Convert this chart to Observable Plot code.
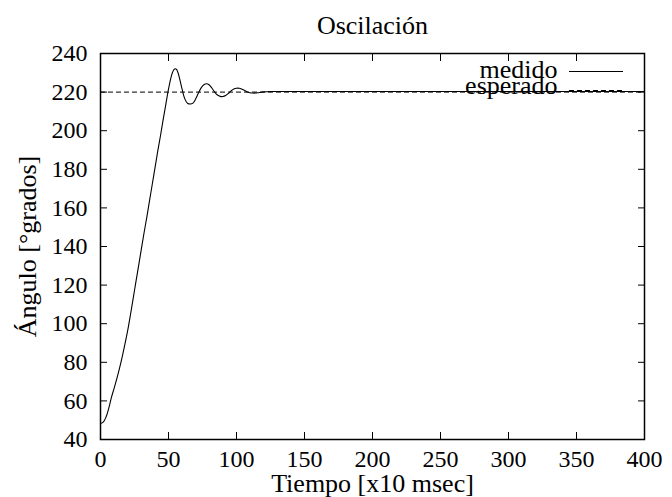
<!DOCTYPE html>
<html><head><meta charset="utf-8">
<script src="https://cdn.jsdelivr.net/npm/d3@7"></script>
<script src="https://cdn.jsdelivr.net/npm/@observablehq/plot@0.6"></script>
<style>
body{margin:0;background:#fff}
svg, svg text{font-family:"Liberation Serif","Times New Roman",serif !important}
</style>
</head><body><div id="chart"></div><script>
const tiempo = [0,2,4,6,8,10,12,14,16,18,20,22,24,26,28,30,32,34,36,38,40,42,44,46,48,50,52,53,54,55,56,57,58,60,62,64,66,68,70,72,74,76,78,80,82,84,86,88,90,92,94,96,98,100,102,104,106,108,110,112,114,116,118,120,125,130,150,200,250,300,350,400];
const medido = [48.3,49,51.5,56,61.7,66.5,71.5,77,83,89.5,96.5,104.5,113,121.5,130,138.5,147,155,163.5,172,180.5,189,197,205.5,213.5,221.5,228,230.3,231.7,232.1,231.6,230,227.5,221.5,216.5,214.2,213.8,214.3,216.5,219.5,222.2,223.8,224.3,223.7,222,220,218.5,217.8,217.7,218.2,219.3,220.6,221.6,222,222,221.5,220.8,220.1,219.7,219.5,219.5,219.7,219.9,220.1,220.3,220.3,220.3,220.3,220.3,220.3,220.3,220.3];
const esperado = 220;
const xTicks = [0,50,100,150,200,250,300,350,400];
const yTicks = [40,60,80,100,120,140,160,180,200,220,240];
const titulo = "Oscilación";
const xLabel = "Tiempo [x10 msec]";
const yLabel = "Ángulo [°grados]";
const leyenda = ["medido","esperado"];

const data = tiempo.map((t,i)=>({t, v: medido[i]}));
const serif = "Liberation Serif, Times New Roman, serif";

const plot = Plot.plot({
  width: 672, height: 497,
  marginLeft: 100, marginRight: 28, marginTop: 53, marginBottom: 58,
  style: {fontFamily: serif, fontSize: "24px", color: "black", background: "white", overflow: "visible"},
  x: {domain: [0,400]},
  y: {domain: [40,240]},
  marks: [
    Plot.ruleY([esperado], {stroke: "black", strokeWidth: 1, strokeDasharray: "5,3"}),
    Plot.line(data, {x: "t", y: "v", stroke: "black", strokeWidth: 1.1, curve: "catmull-rom"}),
    Plot.axisX({ticks: xTicks, tickSize: -7, tickPadding: 17, label: null, fontSize: 24}),
    Plot.axisX({anchor: "top", ticks: xTicks, tickSize: -7, tickFormat: () => "", label: null}),
    Plot.axisY({ticks: yTicks, tickSize: -7, tickPadding: 20, label: null, fontSize: 24}),
    Plot.axisY({anchor: "right", ticks: yTicks, tickSize: -7, tickFormat: () => "", label: null}),
    Plot.frame({stroke: "black", strokeWidth: 1.5}),
    Plot.text([xLabel], {frameAnchor: "bottom", dy: 52, lineAnchor: "bottom", fontSize: 26, fill: "black"}),
    Plot.text([yLabel], {frameAnchor: "left", dx: -83, rotate: -90, lineAnchor: "top", textAnchor: "middle", fontSize: 26, fill: "black"}),
    Plot.text([titulo], {frameAnchor: "top", dy: -20, lineAnchor: "bottom", fontSize: 26, fill: "black"}),
    Plot.text([leyenda[0]], {frameAnchor: "top-right", dx: -87, dy: 24, lineAnchor: "bottom", textAnchor: "end", fontSize: 26, fill: "black"}),
    Plot.text([leyenda[1]], {frameAnchor: "top-right", dx: -87, dy: 40, lineAnchor: "bottom", textAnchor: "end", fontSize: 26, fill: "black"})
  ]
});
document.getElementById("chart").appendChild(plot);

// legend swatches
const svg = d3.select(plot);
const right = 672 - 28;
svg.append("line").attr("x1", right - 75).attr("x2", right - 21).attr("y1", 71.5).attr("y2", 71.5)
  .attr("stroke", "black").attr("stroke-width", 1.1);
svg.append("line").attr("x1", right - 75).attr("x2", right - 21).attr("y1", 90.5).attr("y2", 90.5)
  .attr("stroke", "black").attr("stroke-width", 1).attr("stroke-dasharray", "5,3");
</script></body></html>
